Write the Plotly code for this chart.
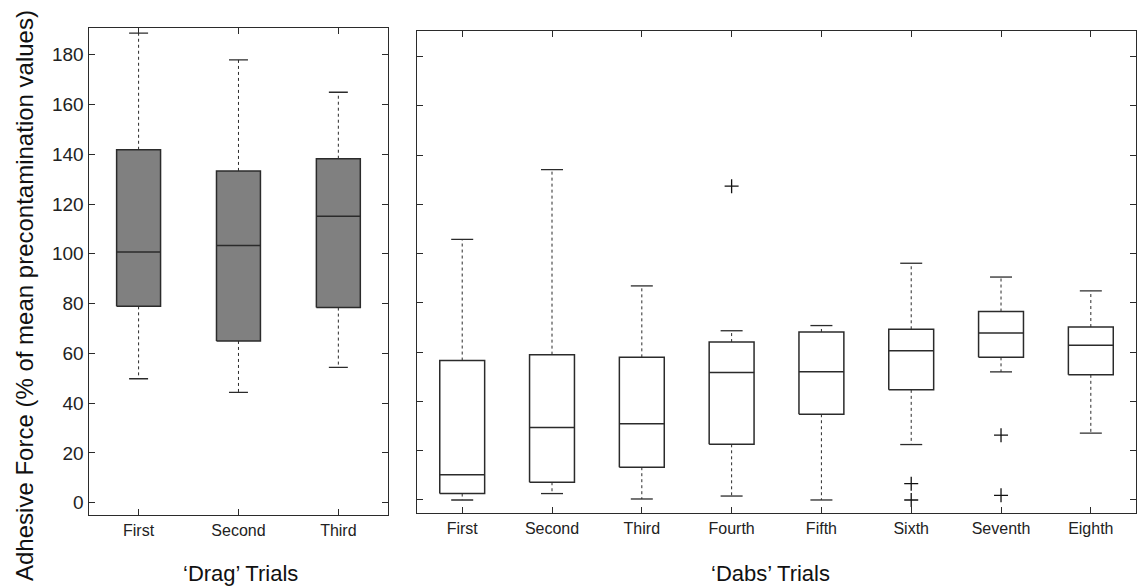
import plotly.graph_objects as go

# 'Drag' trials (left panel)
drag_labels = ["First", "Second", "Third"]
drag_lower = [49.8, 44.3, 54.4]
drag_q1 = [78.9, 65.0, 78.4]
drag_median = [100.7, 103.3, 115.1]
drag_q3 = [141.8, 133.3, 138.2]
drag_upper = [188.7, 177.9, 164.9]

# 'Dabs' trials (right panel)
dabs_labels = ["First", "Second", "Third", "Fourth", "Fifth", "Sixth", "Seventh", "Eighth"]
dabs_lower = [0.0, 2.6, 0.4, 1.6, 0.0, 22.5, 52.0, 27.1]
dabs_q1 = [2.6, 7.2, 13.3, 22.6, 34.8, 44.7, 57.9, 50.8]
dabs_median = [10.2, 29.4, 30.9, 51.8, 52.1, 60.6, 67.8, 62.8]
dabs_q3 = [56.6, 59.0, 57.9, 64.1, 68.2, 69.3, 76.5, 70.2]
dabs_upper = [105.8, 134.1, 86.9, 68.7, 70.8, 96.1, 90.5, 84.9]

# outliers: trial name and value
dabs_outlier_trial = ["Fourth", "Sixth", "Sixth", "Seventh", "Seventh"]
dabs_outlier_value = [127.4, 6.6, 0.0, 26.3, 1.9]

y_ticks = [0, 20, 40, 60, 80, 100, 120, 140, 160, 180]

EDGE = "#2b2b2b"
FONT = "Liberation Sans, Arial, sans-serif"

fig = go.Figure()


def add_boxes(labels, lower, q1, med, q3, upper, xa, ya, box_w, cap_w, fill):
    pos = list(range(1, len(labels) + 1))
    # dotted whiskers
    wx, wy = [], []
    for p, lo, a, b, hi in zip(pos, lower, q1, q3, upper):
        wx += [p, p, None, p, p, None]
        wy += [b, hi, None, a, lo, None]
    fig.add_trace(go.Scatter(x=wx, y=wy, mode="lines", xaxis=xa, yaxis=ya,
                             line=dict(color=EDGE, width=1, dash="dot"),
                             hoverinfo="skip", showlegend=False))
    # whisker caps
    cx, cy = [], []
    for p, lo, hi in zip(pos, lower, upper):
        cx += [p - cap_w / 2, p + cap_w / 2, None, p - cap_w / 2, p + cap_w / 2, None]
        cy += [hi, hi, None, lo, lo, None]
    fig.add_trace(go.Scatter(x=cx, y=cy, mode="lines", xaxis=xa, yaxis=ya,
                             line=dict(color=EDGE, width=1.3),
                             hoverinfo="skip", showlegend=False))
    # boxes with median lines
    for p, a, m, b in zip(pos, q1, med, q3):
        l, r = p - box_w / 2, p + box_w / 2
        fig.add_trace(go.Scatter(x=[l, r, r, l, l], y=[a, a, b, b, a], mode="lines",
                                 xaxis=xa, yaxis=ya, fill="toself", fillcolor=fill,
                                 line=dict(color=EDGE, width=1.5),
                                 hoverinfo="skip", showlegend=False))
        fig.add_trace(go.Scatter(x=[l, r], y=[m, m], mode="lines", xaxis=xa, yaxis=ya,
                                 line=dict(color=EDGE, width=1.5),
                                 hoverinfo="skip", showlegend=False))
    return pos


drag_pos = add_boxes(drag_labels, drag_lower, drag_q1, drag_median, drag_q3, drag_upper,
                     "x", "y", 0.44, 0.19, "#808080")
dabs_pos = add_boxes(dabs_labels, dabs_lower, dabs_q1, dabs_median, dabs_q3, dabs_upper,
                     "x2", "y2", 0.5, 0.245, "white")

fig.add_trace(go.Scatter(
    x=[dabs_labels.index(t) + 1 for t in dabs_outlier_trial], y=dabs_outlier_value,
    mode="markers", xaxis="x2", yaxis="y2",
    marker=dict(symbol="cross-thin", size=10, line=dict(color="#111", width=1.3)),
    hoverinfo="skip", showlegend=False))

axis_common = dict(showline=True, linecolor=EDGE, linewidth=1.3, mirror="ticks",
                   ticks="inside", ticklen=6, tickcolor=EDGE, tickwidth=1.3,
                   showgrid=False, zeroline=False)

title_font = dict(size=22, color="#111")

fig.update_layout(
    width=1138, height=586,
    margin=dict(l=0, r=0, t=0, b=0),
    paper_bgcolor="white", plot_bgcolor="white",
    font=dict(family=FONT, color="#222"),
    xaxis=dict(domain=[0.0779, 0.3412], range=[0.5, 3.5],
               tickvals=drag_pos, ticktext=drag_labels,
               tickfont=dict(size=16), **axis_common),
    yaxis=dict(domain=[0.1206, 0.9517], range=[-5.06, 190.6],
               tickvals=y_ticks, tickfont=dict(size=19), **axis_common),
    xaxis2=dict(domain=[0.3667, 0.998], range=[0.5, 8.5], anchor="y2",
                tickvals=dabs_pos, ticktext=dabs_labels,
                tickfont=dict(size=16), **axis_common),
    yaxis2=dict(domain=[0.1241, 0.9476], range=[-5.4, 190.5], anchor="x2",
                tickvals=y_ticks, showticklabels=False, **axis_common),
    annotations=[
        dict(text="Adhesive Force (% of mean precontamination values)",
             x=24 / 1138, y=(586 - 296) / 586, xref="paper", yref="paper",
             xanchor="center", yanchor="middle", textangle=-90,
             showarrow=False, font=dict(size=24, color="#111")),
        dict(text="‘Drag’ Trials", x=240 / 1138, y=(586 - 573) / 586,
             xref="paper", yref="paper", xanchor="center", yanchor="middle",
             showarrow=False, font=title_font),
        dict(text="‘Dabs’ Trials", x=770 / 1138, y=(586 - 573) / 586,
             xref="paper", yref="paper", xanchor="center", yanchor="middle",
             showarrow=False, font=title_font),
    ],
)

fig.write_html("out.html")
